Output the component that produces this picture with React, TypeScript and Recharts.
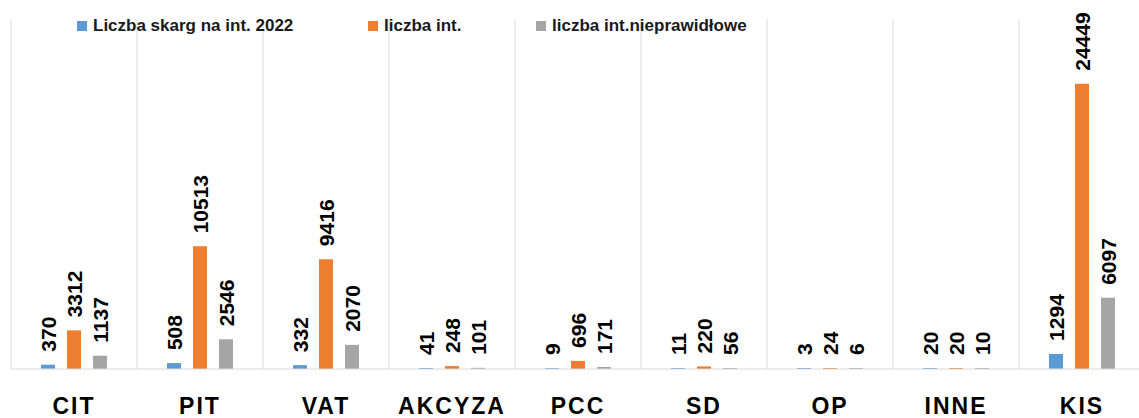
import { BarChart, Bar, XAxis, YAxis, CartesianGrid, LabelList } from 'recharts'

const categories = ['CIT', 'PIT', 'VAT', 'AKCYZA', 'PCC', 'SD', 'OP', 'INNE', 'KIS']
const skargi = [370, 508, 332, 41, 9, 11, 3, 20, 1294]
const interpretacje = [3312, 10513, 9416, 248, 696, 220, 24, 20, 24449]
const nieprawidlowe = [1137, 2546, 2070, 101, 171, 56, 6, 10, 6097]

const seriesNames = ['Liczba skarg na int. 2022', 'liczba int.', 'liczba int.nieprawidłowe']
const seriesColors = ['#5B9BD5', '#ED7D31', '#A5A5A5']
const legendLeft = [77, 368, 536]

const data = categories.map((name, i) => ({
  name,
  skargi: skargi[i],
  interpretacje: interpretacje[i],
  nieprawidlowe: nieprawidlowe[i],
}))

const FONT = '"Liberation Sans", Arial, sans-serif'

// rotated value label above each bar
const VerticalLabel = (props: any) => {
  const { x, y, width, value } = props
  const cx = Number(x) + Number(width) / 2
  return (
    <text
      transform={`translate(${cx}, ${Number(y) - 13}) rotate(-90)`}
      dy="0.36em"
      fontSize={21}
      fontWeight={700}
      fontFamily={FONT}
      fill="#000"
    >
      {value}
    </text>
  )
}

const CategoryTick = (props: any) => {
  const { x, y, payload } = props
  return (
    <text
      x={x}
      y={y + 43}
      textAnchor="middle"
      fontSize={23}
      fontWeight={700}
      letterSpacing={2}
      fontFamily={FONT}
      fill="#000"
    >
      {payload.value}
    </text>
  )
}

export default function App() {
  return (
    <div
      style={{
        position: 'absolute',
        left: 0,
        top: 0,
        width: 1139,
        height: 418,
        overflow: 'hidden',
        background: '#fff',
      }}
    >
      <BarChart
        width={1150}
        height={418}
        data={data}
        margin={{ top: 19, right: 5, left: 11, bottom: 0 }}
        barCategoryGap={30}
        barGap={12}
      >
        <CartesianGrid
          horizontal={false}
          stroke="#d9d9d9"
          verticalCoordinatesGenerator={({ offset }: any) =>
            categories.map((_, i) => offset.left + (i * offset.width) / categories.length)
          }
        />
        <XAxis
          dataKey="name"
          height={49}
          tickLine={false}
          tickSize={0}
          axisLine={{ stroke: '#d9d9d9' }}
          tick={<CategoryTick />}
          interval={0}
        />
        <YAxis hide domain={[0, 30000]} />
        <Bar dataKey="skargi" fill={seriesColors[0]} barSize={14} minPointSize={1} isAnimationActive={false}>
          <LabelList dataKey="skargi" content={<VerticalLabel />} />
        </Bar>
        <Bar dataKey="interpretacje" fill={seriesColors[1]} barSize={14} minPointSize={1} isAnimationActive={false}>
          <LabelList dataKey="interpretacje" content={<VerticalLabel />} />
        </Bar>
        <Bar dataKey="nieprawidlowe" fill={seriesColors[2]} barSize={14} minPointSize={1} isAnimationActive={false}>
          <LabelList dataKey="nieprawidlowe" content={<VerticalLabel />} />
        </Bar>
      </BarChart>
      {seriesNames.map((n, i) => (
        <div
          key={n}
          style={{
            position: 'absolute',
            left: legendLeft[i],
            top: 15,
            display: 'flex',
            alignItems: 'center',
            fontFamily: FONT,
            fontWeight: 700,
            fontSize: 17,
            color: '#1a1a1a',
            whiteSpace: 'nowrap',
            lineHeight: '22px',
          }}
        >
          <span style={{ width: 10, height: 10, background: seriesColors[i], marginRight: 6, display: 'inline-block' }} />
          {n}
        </div>
      ))}
    </div>
  )
}
